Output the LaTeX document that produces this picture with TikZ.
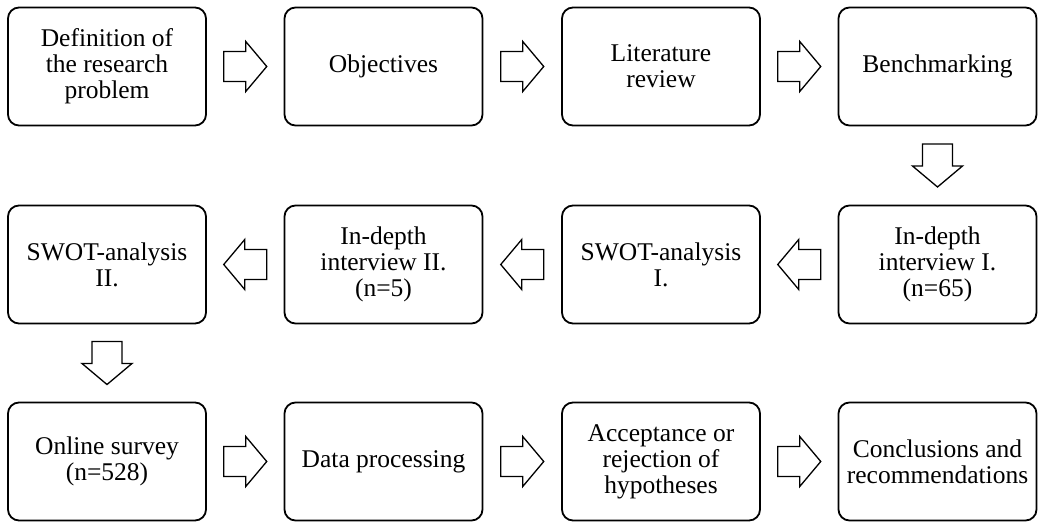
\documentclass[tikz,border=0pt]{standalone}
\usepackage{fontspec}
\setmainfont{Liberation Serif}
\begin{document}
\begin{tikzpicture}[x=1pt,y=-1pt,
  stage/.style={draw, line width=1.8pt, rounded corners=11pt,
    minimum width=198pt, minimum height=118pt, inner sep=2pt,
    align=center, font=\fontsize{25.5}{26}\selectfont},
  blockarrow/.pic={
    \draw[line width=1.3pt, fill=white, line join=miter]
      (-21.5,15) -- (0.5,15) -- (0.5,25) -- (21.5,0) -- (0.5,-25)
      -- (0.5,-15) -- (-21.5,-15) -- cycle;
  }]
\useasboundingbox (0,0) rectangle (1038,522);

% first row
\node[stage] (def)  at (107,66.5)   {Definition of\\the research\\problem};
\node[stage] (obj)  at (383.5,66.5) {Objectives};
\node[stage] (lit)  at (661,66.5)   {Literature\\review};
\node[stage] (ben)  at (937.5,66.5) {Benchmarking};

% second row
\node[stage] (sw2)  at (107,264.5)   {SWOT-analysis\\II.};
\node[stage] (in2)  at (383.5,264.5) {In-depth\\interview II.\\(n=5)};
\node[stage] (sw1)  at (661,264.5)   {SWOT-analysis\\I.};
\node[stage] (in1)  at (937.5,264.5) {In-depth\\interview I.\\(n=65)};

% third row
\node[stage] (onl)  at (107,461.5)   {Online survey\\(n=528)};
\node[stage] (dat)  at (383.5,461.5) {Data processing};
\node[stage] (acc)  at (661,461.5)   {Acceptance or\\rejection of\\hypotheses};
\node[stage] (con)  at (937.5,461.5) {Conclusions and\\recommendations};

% block arrows halfway between consecutive stages
\path (def.east) -- (obj.west) pic[midway]{blockarrow};
\path (obj.east) -- (lit.west) pic[midway]{blockarrow};
\path (lit.east) -- (ben.west) pic[midway]{blockarrow};
\path (ben.south) -- (in1.north) pic[midway, rotate=-90]{blockarrow};
\path (in1.west) -- (sw1.east) pic[midway, rotate=180]{blockarrow};
\path (sw1.west) -- (in2.east) pic[midway, rotate=180]{blockarrow};
\path (in2.west) -- (sw2.east) pic[midway, rotate=180]{blockarrow};
\path (sw2.south) -- (onl.north) pic[midway, rotate=-90]{blockarrow};
\path (onl.east) -- (dat.west) pic[midway]{blockarrow};
\path (dat.east) -- (acc.west) pic[midway]{blockarrow};
\path (acc.east) -- (con.west) pic[midway]{blockarrow};
\end{tikzpicture}
\end{document}
